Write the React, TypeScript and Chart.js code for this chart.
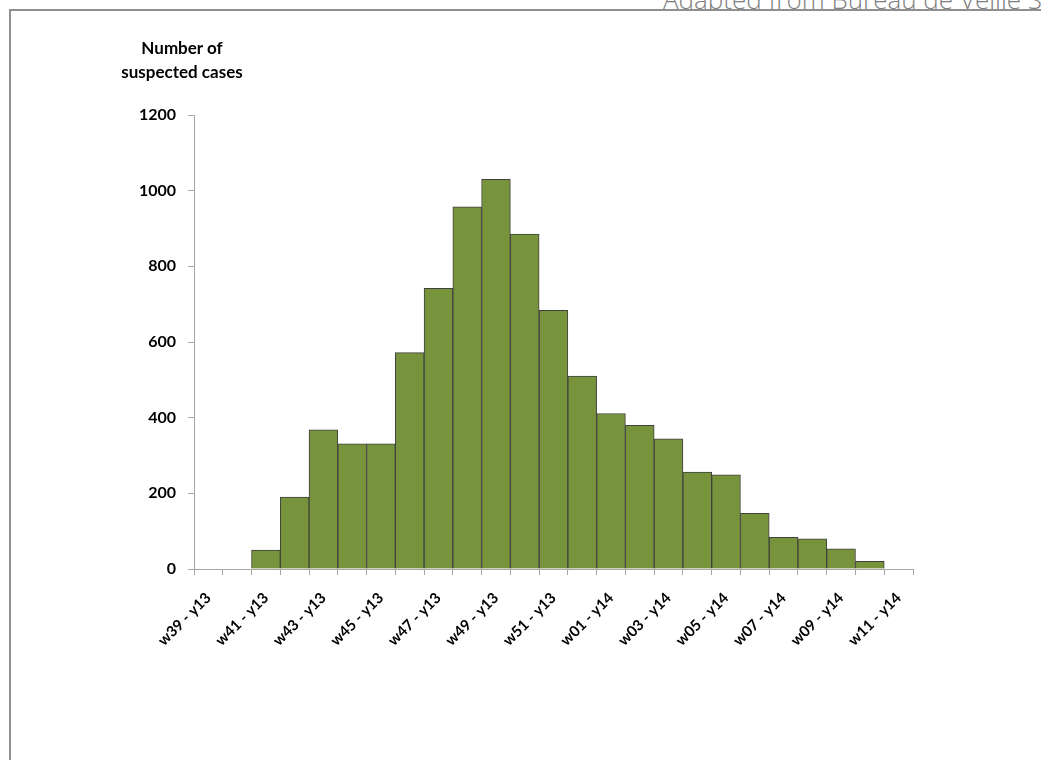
import React, { useEffect, useRef } from "react";
import { Chart, registerables } from "chart.js";

Chart.register(...registerables);

const categories: string[] = [
  "w39 - y13", "w40 - y13", "w41 - y13", "w42 - y13", "w43 - y13",
  "w44 - y13", "w45 - y13", "w46 - y13", "w47 - y13", "w48 - y13",
  "w49 - y13", "w50 - y13", "w51 - y13", "w52 - y13", "w01 - y14",
  "w02 - y14", "w03 - y14", "w04 - y14", "w05 - y14", "w06 - y14",
  "w07 - y14", "w08 - y14", "w09 - y14", "w10 - y14", "w11 - y14",
];

const suspectedCases: number[] = [
  0, 0, 50, 190, 368, 331, 331, 572, 742, 957, 1030, 885, 684, 510, 411,
  380, 344, 256, 249, 147, 84, 80, 53, 20, 0,
];

const yMin = 0;
const yMax = 1200;
const yStep = 200;

const titleLines: string[] = ["Number of", "suspected cases"];
const sourceText = "Adapted from Bureau de Veille Sanitaire";

export default function App() {
  const canvasRef = useRef<HTMLCanvasElement | null>(null);

  useEffect(() => {
    document.body.style.margin = "0";
    const canvas = canvasRef.current;
    if (!canvas) return;
    const chart = new Chart(canvas, {
      type: "bar",
      data: {
        labels: categories,
        datasets: [
          {
            data: suspectedCases,
            backgroundColor: "#77933C",
            borderColor: "#404040",
            borderWidth: 1,
            barPercentage: 1,
            categoryPercentage: 1,
          },
        ],
      },
      options: {
        animation: false,
        responsive: false,
        maintainAspectRatio: false,
        devicePixelRatio: 1,
        layout: { padding: { left: 0, right: 128, top: 115, bottom: 71 } },
        plugins: {
          legend: { display: false },
          tooltip: { enabled: false },
          title: { display: false },
        },
        scales: {
          x: {
            offset: true,
            grid: {
              display: true,
              offset: true,
              drawOnChartArea: false,
              drawTicks: true,
              tickLength: 6,
              color: "#a6a6a6",
              lineWidth: 1,
            },
            border: { display: true, color: "#a6a6a6", width: 1 },
            ticks: {
              autoSkip: false,
              maxRotation: 45,
              minRotation: 45,
              padding: 14,
              color: "#000000",
              font: { family: "Lato", size: 15, weight: "bold" },
              callback: (_v: any, i: number) => (i % 2 === 0 ? categories[i] : ""),
            },
            afterFit: (scale: any) => {
              scale.height = 120;
            },
          },
          y: {
            min: yMin,
            max: yMax,
            grid: {
              display: true,
              drawOnChartArea: false,
              drawTicks: true,
              tickLength: 6,
              color: "#a6a6a6",
              lineWidth: 1,
            },
            border: { display: true, color: "#a6a6a6", width: 1 },
            ticks: {
              stepSize: yStep,
              padding: 12,
              color: "#000000",
              font: { family: "Lato", size: 16, weight: "bold" },
              callback: (v: any) => String(v),
            },
            afterFit: (scale: any) => {
              scale.width = 194;
            },
          },
        },
      },
    });
    return () => chart.destroy();
  }, []);

  return (
    <div
      style={{
        position: "fixed",
        left: 0,
        top: 0,
        width: 1041,
        height: 760,
        overflow: "hidden",
        background: "#ffffff",
      }}
    >
      <div
        style={{
          position: "absolute",
          left: 663,
          top: -14,
          whiteSpace: "nowrap",
          fontFamily: "'Open Sans', sans-serif",
          fontWeight: 300,
          fontSize: 26,
          lineHeight: "26px",
          color: "#7f7f7f",
        }}
      >
        {sourceText}
      </div>
      <div
        style={{
          position: "absolute",
          left: 9,
          top: 9,
          right: -10,
          bottom: -10,
          borderLeft: "2px solid #8f8f8f",
          borderTop: "2px solid #8f8f8f",
          background: "#ffffff",
        }}
      />
      <canvas
        ref={canvasRef}
        width={1041}
        height={760}
        style={{ position: "absolute", left: 0, top: 0, width: 1041, height: 760 }}
      />
      <div
        style={{
          position: "absolute",
          left: 82,
          top: 36,
          width: 200,
          textAlign: "center",
          fontFamily: "Lato, sans-serif",
          fontWeight: 700,
          fontSize: 17,
          lineHeight: "24px",
          color: "#000000",
        }}
      >
        {titleLines.map((t) => (
          <div key={t}>{t}</div>
        ))}
      </div>
    </div>
  );
}
